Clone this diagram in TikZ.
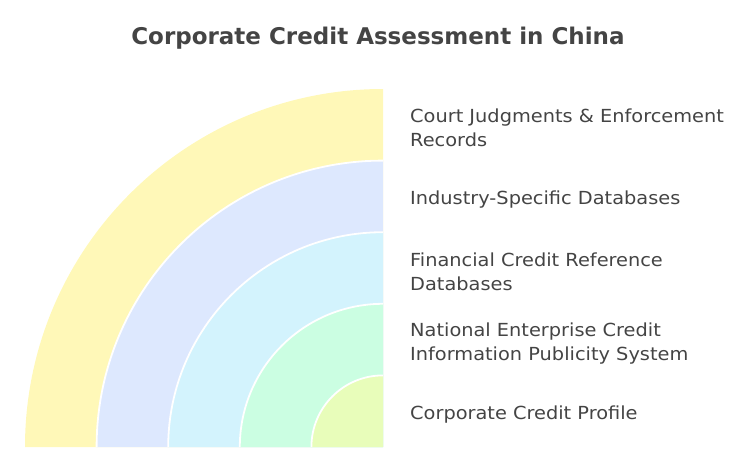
\documentclass[tikz,border=0pt]{standalone}
\usepackage{fontspec}
\setmainfont{DejaVu Sans}
\newfontfamily\lblfont[FakeStretch=1.075]{DejaVu Sans}
\definecolor{cyel}{HTML}{FFF8B8}
\definecolor{cblu}{HTML}{DDE8FE}
\definecolor{ccya}{HTML}{D3F3FD}
\definecolor{cgrn}{HTML}{CBFEE2}
\definecolor{clim}{HTML}{E8FDBA}
\definecolor{ctxt}{HTML}{444444}
\begin{document}
\begin{tikzpicture}[x=1pt,y=1pt,
  lbl/.style={anchor=west,align=left,text=ctxt,inner sep=0pt,font=\lblfont\fontsize{18}{24}\selectfont},
  sep/.style={draw=white,line width=1.8pt}]
\useasboundingbox (0,0) rectangle (756,-467);
\coordinate (o) at (383,-447);
\foreach \r/\c in {358/cyel,286.4/cblu,214.8/ccya,143.2/cgrn,71.6/clim}{
  \fill[\c] (o) -- ++(180:\r) arc[start angle=180,end angle=90,radius=\r] -- cycle;
}
\foreach \r in {286.4,214.8,143.2,71.6}{
  \draw[sep] ([xshift=-\r]o) arc[start angle=180,end angle=90,radius=\r];
}
\node[text=ctxt,font=\bfseries\fontsize{23}{26}\selectfont] (title) at (378,-38) {Corporate Credit Assessment in China};
\node[lbl] (l1) at (410,-128) {Court Judgments \& Enforcement\\Records};
\node[lbl] (l2) at (410,-200) {Industry-Specific Databases};
\node[lbl] (l3) at (410,-272) {Financial Credit Reference\\Databases};
\node[lbl] (l4) at (410,-344) {National Enterprise Credit\\Information Publicity System};
\node[lbl] (l5) at (410,-415) {Corporate Credit Profile};
\end{tikzpicture}
\end{document}
